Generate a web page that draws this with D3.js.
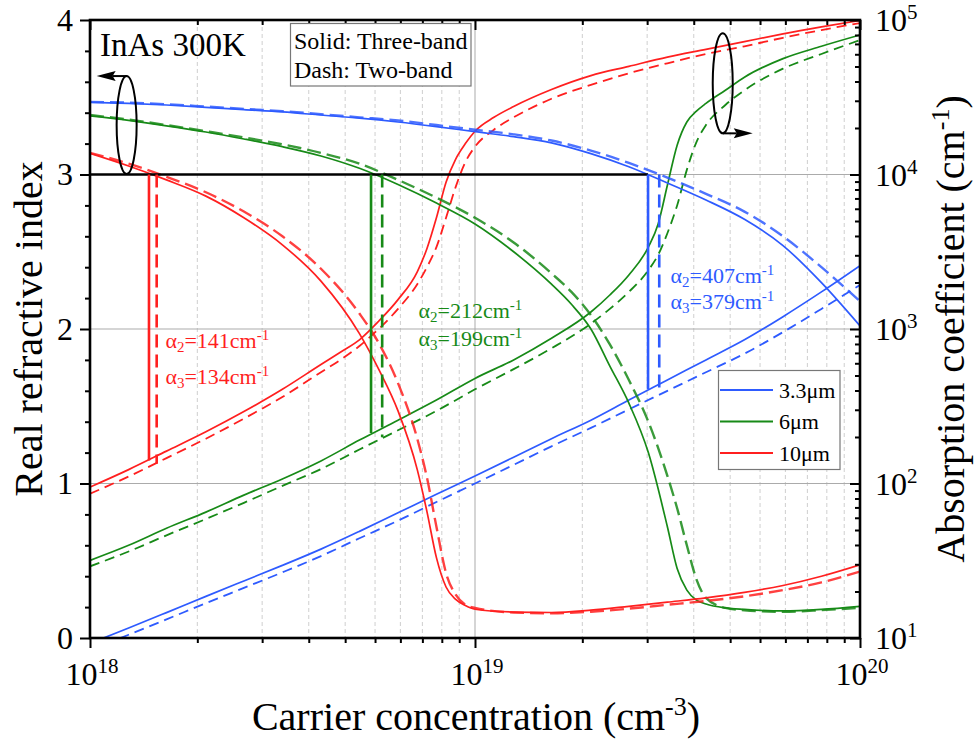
<!DOCTYPE html>
<html>
<head>
<meta charset="utf-8">
<script src="https://cdn.jsdelivr.net/npm/d3@7"></script>
<style>
  body { margin: 0; background: #fff; }
  svg { display: block; }
  text { font-family: "Liberation Serif", "Times New Roman", serif; fill: #000; }
</style>
</head>
<body>
<svg id="chart" width="977" height="744"></svg>
<script>
// ---- Data: carrier concentration (cm^-3) paired with real refractive index ----
const nBlueThree = [[1.00e18,3.467],[1.26e18,3.46],[1.58e18,3.45],[2.00e18,3.435],[2.51e18,3.42],[3.16e18,3.405],[3.98e18,3.385],[5.01e18,3.365],[6.31e18,3.34],[7.94e18,3.31],[1.00e19,3.277],[1.26e19,3.245],[1.58e19,3.205],[2.00e19,3.135],[2.51e19,3.05],[3.16e19,2.945],[3.98e19,2.835],[5.01e19,2.71],[6.31e19,2.54],[7.94e19,2.30],[1.00e20,2.02]];
const nBlueTwo = [[1.00e18,3.47],[1.26e18,3.465],[1.58e18,3.455],[2.00e18,3.44],[2.51e18,3.425],[3.16e18,3.41],[3.98e18,3.39],[5.01e18,3.37],[6.31e18,3.35],[7.94e18,3.32],[1.00e19,3.29],[1.26e19,3.26],[1.58e19,3.22],[2.00e19,3.155],[2.51e19,3.075],[3.16e19,2.98],[3.98e19,2.875],[5.01e19,2.76],[6.31e19,2.60],[7.94e19,2.40],[1.00e20,2.18]];
const nGreenThree = [[1.00e18,3.379],[1.26e18,3.35],[1.58e18,3.315],[2.00e18,3.275],[2.51e18,3.23],[3.16e18,3.18],[3.98e18,3.12],[5.01e18,3.04],[6.31e18,2.935],[7.94e18,2.815],[1.00e19,2.68],[1.26e19,2.50],[1.58e19,2.29],[1.78e19,2.16],[2.00e19,2.00],[2.24e19,1.76],[2.51e19,1.52],[2.82e19,1.2],[3.16e19,0.72],[3.35e19,0.45],[3.55e19,0.31],[3.76e19,0.245],[3.98e19,0.22],[4.47e19,0.195],[5.01e19,0.185],[6.31e19,0.175],[7.94e19,0.185],[1.00e20,0.205]];
const nGreenTwo = [[1.00e18,3.385],[1.26e18,3.355],[1.58e18,3.32],[2.00e18,3.28],[2.51e18,3.24],[3.16e18,3.195],[3.98e18,3.14],[5.01e18,3.07],[6.31e18,2.965],[7.94e18,2.85],[1.00e19,2.72],[1.26e19,2.56],[1.58e19,2.36],[1.78e19,2.24],[2.00e19,2.09],[2.24e19,1.9],[2.51e19,1.67],[2.82e19,1.40],[3.16e19,1.05],[3.35e19,0.84],[3.55e19,0.60],[3.76e19,0.38],[3.98e19,0.26],[4.47e19,0.195],[5.01e19,0.18],[6.31e19,0.17],[7.94e19,0.18],[1.00e20,0.195]];
const nRedThree = [[1.00e18,3.137],[1.26e18,3.055],[1.58e18,2.965],[2.00e18,2.86],[2.51e18,2.72],[3.16e18,2.545],[3.98e18,2.31],[5.01e18,1.97],[5.62e18,1.74],[6.31e18,1.47],[7.08e18,1.09],[7.50e18,0.82],[7.94e18,0.52],[8.41e18,0.33],[8.91e18,0.25],[9.44e18,0.21],[1.00e19,0.186],[1.26e19,0.168],[1.58e19,0.165],[2.00e19,0.18],[2.51e19,0.205],[3.16e19,0.232],[3.98e19,0.26],[5.01e19,0.295],[6.31e19,0.34],[7.94e19,0.40],[1.00e20,0.474]];
const nRedTwo = [[1.00e18,3.14],[1.26e18,3.07],[1.58e18,2.985],[2.00e18,2.885],[2.51e18,2.76],[3.16e18,2.60],[3.98e18,2.39],[5.01e18,2.10],[5.62e18,1.91],[6.31e18,1.65],[7.08e18,1.29],[7.50e18,1.04],[7.94e18,0.72],[8.41e18,0.42],[8.91e18,0.28],[9.44e18,0.215],[1.00e19,0.195],[1.26e19,0.165],[1.58e19,0.16],[2.00e19,0.17],[2.51e19,0.19],[3.16e19,0.215],[3.98e19,0.24],[5.01e19,0.27],[6.31e19,0.31],[7.94e19,0.36],[1.00e20,0.43]];

// ---- Data: carrier concentration (cm^-3) paired with absorption coefficient (cm^-1) ----
const aBlueThree = [[1.00e18,9.23],[1.26e18,11.6],[1.58e18,14.6],[2.00e18,18.6],[2.51e18,23.4],[3.16e18,29.5],[3.98e18,37.6],[5.01e18,49.0],[6.31e18,64.6],[7.94e18,85.1],[1.00e19,112],[1.26e19,148],[1.58e19,195],[2.00e19,257],[2.51e19,347],[3.16e19,468],[3.98e19,631],[5.01e19,851],[6.31e19,1202],[7.94e19,1738],[1.00e20,2570]];
const aBlueTwo = [[1.00e18,8.32],[1.26e18,10.5],[1.58e18,13.2],[2.00e18,16.8],[2.51e18,21.1],[3.16e18,26.6],[3.98e18,33.9],[5.01e18,44.2],[6.31e18,57.5],[7.94e18,75.9],[1.00e19,100],[1.26e19,132],[1.58e19,174],[2.00e19,229],[2.51e19,302],[3.16e19,398],[3.98e19,525],[5.01e19,692],[6.31e19,955],[7.94e19,1349],[1.00e20,1928]];
const aGreenThree = [[1.00e18,31.8],[1.26e18,39.8],[1.58e18,51.3],[2.00e18,65.3],[2.51e18,84.1],[3.16e18,107],[3.98e18,140],[5.01e18,191],[6.31e18,257],[7.94e18,347],[1.00e19,479],[1.26e19,631],[1.58e19,871],[2.00e19,1288],[2.24e19,1660],[2.51e19,2239],[2.82e19,3388],[2.99e19,4786],[3.16e19,8511],[3.35e19,15488],[3.55e19,21878],[3.76e19,25704],[3.98e19,28840],[4.47e19,35075],[5.01e19,42658],[6.31e19,56234],[7.94e19,67608],[1.00e20,79983]];
const aGreenTwo = [[1.00e18,29.1],[1.26e18,36.3],[1.58e18,46.2],[2.00e18,58.9],[2.51e18,75.0],[3.16e18,96.6],[3.98e18,124],[5.01e18,166],[6.31e18,221],[7.94e18,295],[1.00e19,407],[1.26e19,550],[1.58e19,750],[2.00e19,1084],[2.24e19,1349],[2.51e19,1738],[2.82e19,2399],[2.99e19,3020],[3.16e19,4169],[3.35e19,6310],[3.55e19,10715],[3.76e19,16218],[3.98e19,20893],[4.47e19,28184],[5.01e19,35075],[6.31e19,48417],[7.94e19,60256],[1.00e20,74131]];
const aRedThree = [[1.00e18,94.8],[1.26e18,123],[1.58e18,162],[2.00e18,216],[2.51e18,292],[3.16e18,407],[3.98e18,589],[4.47e18,708],[5.01e18,851],[5.62e18,1122],[6.31e18,1549],[7.08e18,2344],[7.50e18,3311],[7.94e18,5248],[8.41e18,8913],[8.91e18,12589],[9.44e18,15849],[1.00e19,19055],[1.12e19,23442],[1.26e19,27542],[1.58e19,35481],[2.00e19,43652],[2.51e19,50119],[3.16e19,57544],[3.98e19,64565],[5.01e19,72444],[6.31e19,81283],[7.94e19,90157],[1.00e20,99312]];
const aRedTwo = [[1.00e18,85.9],[1.26e18,111],[1.58e18,146],[2.00e18,195],[2.51e18,263],[3.16e18,363],[3.98e18,525],[4.47e18,631],[5.01e18,776],[5.62e18,1000],[6.31e18,1349],[7.08e18,1950],[7.50e18,2512],[7.94e18,3388],[8.41e18,5248],[8.91e18,8318],[9.44e18,12023],[1.00e19,15136],[1.12e19,19498],[1.26e19,23442],[1.58e19,30903],[2.00e19,38019],[2.51e19,45186],[3.16e19,52481],[3.98e19,60256],[5.01e19,67608],[6.31e19,76736],[7.94e19,86099],[1.00e20,95499]];

// ---- Wavelengths and the n = 3 crossing markers ----
const wavelengths = ["3.3μm", "6μm", "10μm"];
const seriesColors = ["#2e5bff", "#178a17", "#ff1f1f"];
const crossSolidN = [2.815e19, 5.37e18, 1.423e18];
const crossDashN = [3.01e19, 5.74e18, 1.49e18];
const alpha2 = [407, 212, 141];
const alpha3 = [379, 199, 134];
const markerIndex = 3;

// ---- Tick labels ----
const xMajorExp = [18, 19, 20];
const xMinorMult = [1.9, 2.8, 3.7, 4.6, 5.5, 6.4, 7.3, 8.2, 9.1];
const leftMajor = [0, 1, 2, 3, 4];
const rightMajorExp = [1, 2, 3, 4, 5];

// ---- Scales ----
const svg = d3.select("#chart");
const x = d3.scaleLog().domain([1e18, 1e20]).range([90, 860]);
const yN = d3.scaleLinear().domain([0, 4]).range([638, 20]);
const yA = d3.scaleLog().domain([1e1, 1e5]).range([638, 20]);
const [X0, X1] = x.range();
const [Y0, Y1] = yN.range();

const xMinor = [];
[1e18, 1e19].forEach(d => xMinorMult.forEach(m => xMinor.push(m * d)));
const leftMinor = d3.range(1, 20).map(i => i * 0.2).filter(v => Math.abs(v - Math.round(v)) > 1e-6);
const rightMinor = [];
[1e1, 1e2, 1e3, 1e4].forEach(d => d3.range(2, 10).forEach(m => rightMinor.push(m * d)));

// ---- Grid ----
const grid = svg.append("g");
grid.selectAll("line.minor").data(xMinor).join("line")
  .attr("x1", d => x(d)).attr("x2", d => x(d)).attr("y1", Y1).attr("y2", Y0)
  .attr("stroke", "#cfcfcf").attr("stroke-width", 1).attr("stroke-dasharray", "4,3");
grid.append("line").attr("x1", x(1e19)).attr("x2", x(1e19)).attr("y1", Y1).attr("y2", Y0)
  .attr("stroke", "#ababab").attr("stroke-width", 1);
grid.selectAll("line.h").data([1, 2, 3]).join("line")
  .attr("x1", X0).attr("x2", X1).attr("y1", d => yN(d)).attr("y2", d => yN(d))
  .attr("stroke", "#ababab").attr("stroke-width", 1);

// ---- Curves ----
svg.append("clipPath").attr("id", "plotClip").append("rect")
  .attr("x", X0).attr("y", Y1).attr("width", X1 - X0).attr("height", Y0 - Y1);
const curves = svg.append("g").attr("clip-path", "url(#plotClip)");
const lineN = d3.line().x(d => x(d[0])).y(d => yN(d[1])).curve(d3.curveMonotoneX);
const lineA = d3.line().x(d => x(d[0])).y(d => yA(d[1])).curve(d3.curveMonotoneX);

const nSets = [[nBlueThree, nBlueTwo], [nGreenThree, nGreenTwo], [nRedThree, nRedTwo]];
const aSets = [[aBlueThree, aBlueTwo], [aGreenThree, aGreenTwo], [aRedThree, aRedTwo]];

aSets.forEach((pair, i) => {
  curves.append("path").attr("d", lineA(pair[1])).attr("fill", "none")
    .attr("stroke", seriesColors[i]).attr("stroke-width", 1.8).attr("stroke-dasharray", "10,6");
  curves.append("path").attr("d", lineA(pair[0])).attr("fill", "none")
    .attr("stroke", seriesColors[i]).attr("stroke-width", 1.7);
});
nSets.forEach((pair, i) => {
  curves.append("path").attr("d", lineN(pair[1])).attr("fill", "none")
    .attr("stroke", seriesColors[i]).attr("stroke-width", 2.4).attr("stroke-dasharray", "14,6")
    .attr("stroke-opacity", 0.85);
  curves.append("path").attr("d", lineN(pair[0])).attr("fill", "none")
    .attr("stroke", seriesColors[i]).attr("stroke-width", 1.7);
});

// ---- n = 3 reference line and drop lines to the absorption curves ----
const marks = svg.append("g");
marks.append("line")
  .attr("x1", X0).attr("x2", x(crossSolidN[0]))
  .attr("y1", yN(markerIndex)).attr("y2", yN(markerIndex))
  .attr("stroke", "#000").attr("stroke-width", 2.6);
wavelengths.forEach((w, i) => {
  marks.append("line")
    .attr("x1", x(crossSolidN[i])).attr("x2", x(crossSolidN[i]))
    .attr("y1", yN(markerIndex)).attr("y2", yA(alpha2[i]))
    .attr("stroke", seriesColors[i]).attr("stroke-width", 2.6);
  marks.append("line")
    .attr("x1", x(crossDashN[i])).attr("x2", x(crossDashN[i]))
    .attr("y1", yN(markerIndex)).attr("y2", yA(alpha3[i]))
    .attr("stroke", seriesColors[i]).attr("stroke-width", 2.6).attr("stroke-dasharray", "13,7");
});

// ---- Absorption value labels ----
function alphaText(g, px, py, sub, val, color) {
  const t = g.append("text").attr("x", px).attr("y", py).attr("font-size", 22).style("fill", color);
  t.append("tspan").text("α");
  t.append("tspan").attr("font-size", 15).attr("dy", 4).text(sub);
  t.append("tspan").attr("font-size", 22).attr("dy", -4).text("=" + val + "cm");
  t.append("tspan").attr("font-size", 15).attr("dy", -8).text("-1");
}
const labelPos = [
  { n: 3.22e19, y2: 2.295, y3: 2.127 },
  { n: 7.13e18, y2: 2.071, y3: 1.89 },
  { n: 1.57e18, y2: 1.877, y3: 1.644 }
];
wavelengths.forEach((w, i) => {
  alphaText(marks, x(labelPos[i].n), yN(labelPos[i].y2), "2", alpha2[i], seriesColors[i]);
  alphaText(marks, x(labelPos[i].n), yN(labelPos[i].y3), "3", alpha3[i], seriesColors[i]);
});

// ---- Axes ----
function styleAxis(g) {
  g.select(".domain").remove();
  g.selectAll(".tick line").attr("stroke", "#000").attr("stroke-width", 2);
}
svg.append("g").attr("transform", `translate(0,${Y0})`)
  .call(d3.axisBottom(x).tickValues(xMajorExp.map(e => Math.pow(10, e))).tickSize(10).tickFormat("")).call(styleAxis);
svg.append("g").attr("transform", `translate(0,${Y0})`)
  .call(d3.axisBottom(x).tickValues(xMinor).tickSize(5).tickFormat("")).call(styleAxis);
svg.append("g").attr("transform", `translate(0,${Y1})`)
  .call(d3.axisBottom(x).tickValues(xMajorExp.map(e => Math.pow(10, e))).tickSize(10).tickFormat("")).call(styleAxis);
svg.append("g").attr("transform", `translate(0,${Y1})`)
  .call(d3.axisBottom(x).tickValues(xMinor).tickSize(5).tickFormat("")).call(styleAxis);
svg.append("g").attr("transform", `translate(${X0},0)`)
  .call(d3.axisLeft(yN).tickValues(leftMajor).tickSize(10).tickFormat("")).call(styleAxis);
svg.append("g").attr("transform", `translate(${X0},0)`)
  .call(d3.axisLeft(yN).tickValues(leftMinor).tickSize(5).tickFormat("")).call(styleAxis);
svg.append("g").attr("transform", `translate(${X1},0)`)
  .call(d3.axisLeft(yA).tickValues(rightMajorExp.map(e => Math.pow(10, e))).tickSize(10).tickFormat("")).call(styleAxis);
svg.append("g").attr("transform", `translate(${X1},0)`)
  .call(d3.axisLeft(yA).tickValues(rightMinor).tickSize(5).tickFormat("")).call(styleAxis);

svg.append("rect").attr("x", X0).attr("y", Y1).attr("width", X1 - X0).attr("height", Y0 - Y1)
  .attr("fill", "none").attr("stroke", "#000").attr("stroke-width", 2.6);

// Tick labels
const labels = svg.append("g");
leftMajor.forEach(v => {
  labels.append("text").attr("x", 73).attr("y", yN(v) + 10.5)
    .attr("text-anchor", "end").attr("font-size", 32).text(v);
});
xMajorExp.forEach(e => {
  const t = labels.append("text").attr("x", x(Math.pow(10, e)) + 2).attr("y", 685)
    .attr("text-anchor", "middle").attr("font-size", 32);
  t.append("tspan").text("10");
  t.append("tspan").attr("font-size", 21).attr("dy", -12).text(e);
});
rightMajorExp.forEach(e => {
  const t = labels.append("text").attr("x", 875).attr("y", yA(Math.pow(10, e)) + 11)
    .attr("font-size", 32);
  t.append("tspan").text("10");
  t.append("tspan").attr("font-size", 21).attr("dy", -12).text(e);
});

// Axis titles
const xt = labels.append("text").attr("x", (X0 + X1) / 2 + 1).attr("y", 730)
  .attr("text-anchor", "middle").attr("font-size", 40);
xt.append("tspan").text("Carrier concentration (cm");
xt.append("tspan").attr("font-size", 26).attr("dy", -15).text("-3");
xt.append("tspan").attr("dy", 15).text(")");

labels.append("text")
  .attr("transform", `translate(42,${(Y0 + Y1) / 2}) rotate(-90)`)
  .attr("text-anchor", "middle").attr("font-size", 40).text("Real refractive index");

const yt = labels.append("text")
  .attr("transform", `translate(964,${(Y0 + Y1) / 2}) rotate(-90)`)
  .attr("text-anchor", "middle").attr("font-size", 40);
yt.append("tspan").text("Absorption coefficient (cm");
yt.append("tspan").attr("font-size", 26).attr("dy", -15).text("-1");
yt.append("tspan").attr("dy", 15).text(")");

// ---- Sample / temperature title and model key ----
labels.append("text").attr("x", 100).attr("y", 56).attr("font-size", 33).text("InAs 300K");
const key = svg.append("g");
key.append("rect").attr("x", 290.5).attr("y", 23.5).attr("width", 180.5).attr("height", 62.5)
  .attr("fill", "#fff").attr("stroke", "#777").attr("stroke-width", 1.2);
key.append("text").attr("x", 294).attr("y", 48.5).attr("font-size", 24).text("Solid: Three-band");
key.append("text").attr("x", 294).attr("y", 77.5).attr("font-size", 24).text("Dash: Two-band");

// ---- Legend ----
const legend = svg.append("g");
legend.append("rect").attr("x", 718.5).attr("y", 370.5).attr("width", 121.5).attr("height", 99)
  .attr("fill", "#fff").attr("stroke", "#777").attr("stroke-width", 1.2);
wavelengths.forEach((w, i) => {
  const ly = 390 + i * 31.5;
  legend.append("line").attr("x1", 720).attr("x2", 773).attr("y1", ly).attr("y2", ly)
    .attr("stroke", seriesColors[i]).attr("stroke-width", 1.8);
  legend.append("text").attr("x", 779).attr("y", ly + 7.5).attr("font-size", 22).text(w);
});

// ---- Axis-pointer ellipses with arrows ----
const pointer = svg.append("g").attr("stroke", "#000").attr("fill", "none").attr("stroke-width", 2);
const lcx = x(1.245e18), lcy = yN(3.32), lry = 49;
pointer.append("ellipse").attr("cx", lcx).attr("cy", lcy).attr("rx", 10).attr("ry", lry);
pointer.append("line").attr("x1", lcx).attr("x2", lcx - 14).attr("y1", lcy - lry).attr("y2", lcy - lry);
pointer.append("path").attr("fill", "#000").attr("stroke", "none")
  .attr("d", `M${lcx - 30},${lcy - lry} L${lcx - 11},${lcy - lry - 5} L${lcx - 14},${lcy - lry} L${lcx - 11},${lcy - lry + 5} Z`);

const rcx = x(4.40e19), rcy = yN(3.59), rry = 50;
pointer.append("ellipse").attr("cx", rcx).attr("cy", rcy).attr("rx", 10).attr("ry", rry);
pointer.append("line").attr("x1", rcx).attr("x2", rcx + 14).attr("y1", rcy + rry).attr("y2", rcy + rry);
pointer.append("path").attr("fill", "#000").attr("stroke", "none")
  .attr("d", `M${rcx + 30},${rcy + rry} L${rcx + 11},${rcy + rry - 5} L${rcx + 14},${rcy + rry} L${rcx + 11},${rcy + rry + 5} Z`);
</script>
</body>
</html>
